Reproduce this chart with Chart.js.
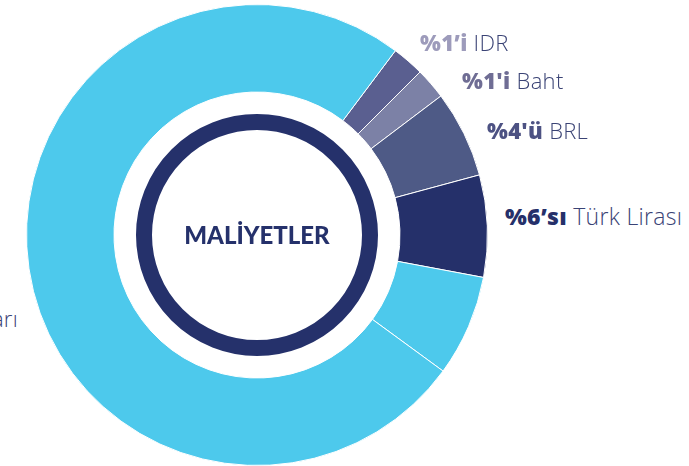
<!DOCTYPE html>
<html lang="tr">
<head>
<meta charset="utf-8">
<title>Maliyetler</title>
<script src="https://cdn.jsdelivr.net/npm/chart.js@4.4.1/dist/chart.umd.min.js"></script>
<style>
  html, body { margin: 0; padding: 0; background: #fff; }
  body { position: relative; width: 689px; height: 466px; overflow: hidden; font-family: Lato, "Open Sans", sans-serif; }
  #wrap { position: absolute; left: 26px; top: 4px; width: 462px; height: 462px; }
  .lbl { position: absolute; white-space: nowrap; font-family: "Open Sans", Lato, sans-serif; font-size: 22px; font-weight: 300;
         letter-spacing: 0.3px; line-height: 1; color: #3a4375; }
  .lbl b { font-weight: 800; }
  #center { position: absolute; left: 157px; width: 200px; top: 223px; text-align: center;
            font-size: 24px; font-weight: 900; line-height: 1; color: #25316b; }
</style>
</head>
<body>
<div id="wrap"><canvas id="chart-costs" width="462" height="462"></canvas></div>
<div id="center">MALİYETLER</div>
<div class="lbl" style="left:420px; top:31px;"><b style="color:#9d9bbb">%1’i</b> IDR</div>
<div class="lbl" style="left:462px; top:69px;"><b style="color:#6f6d94">%1'i</b> Baht</div>
<div class="lbl" style="left:487px; top:119px;"><b style="color:#4d5283">%4'ü</b> BRL</div>
<div class="lbl" style="left:505px; top:205px; font-size:23px;"><b style="color:#25306a">%6’sı</b> Türk Lirası</div>
<div class="lbl" style="right:671px; top:307px;"><b style="color:#25306a">%75'i</b> ABD Doları</div>
<script>
// slice sizes (angle of each slice), clockwise from the IDR slice
const currencies = ["IDR", "Baht", "BRL", "Türk Lirası", "Diğer", "ABD Doları"];
const shares     = [2.25, 2.2, 6.1, 7.15, 7.1, 75.2];
const colours    = ["#5a5f90", "#7c81a6", "#4e5a86", "#25306a", "#4dc9ec", "#4dc9ec"];

// dark ring inside the hole
const innerRing = {
  id: "innerRing",
  afterDraw(chart) {
    const arc = chart.getDatasetMeta(0).data[0];
    const ctx = chart.ctx;
    ctx.save();
    ctx.beginPath();
    ctx.arc(arc.x, arc.y, 113, 0, Math.PI * 2);
    ctx.lineWidth = 16;
    ctx.strokeStyle = "#25316b";
    ctx.stroke();
    ctx.restore();
  }
};

new Chart(document.getElementById("chart-costs"), {
  type: "doughnut",
  data: {
    labels: currencies,
    datasets: [{
      data: shares,
      backgroundColor: colours,
      borderColor: "#ffffff",
      borderWidth: 1,
      hoverOffset: 0
    }]
  },
  options: {
    responsive: false,
    animation: false,
    rotation: 36.9,
    cutout: 143,
    layout: { padding: 0 },
    plugins: { legend: { display: false }, tooltip: { enabled: false } }
  },
  plugins: [innerRing]
});
</script>
</body>
</html>
